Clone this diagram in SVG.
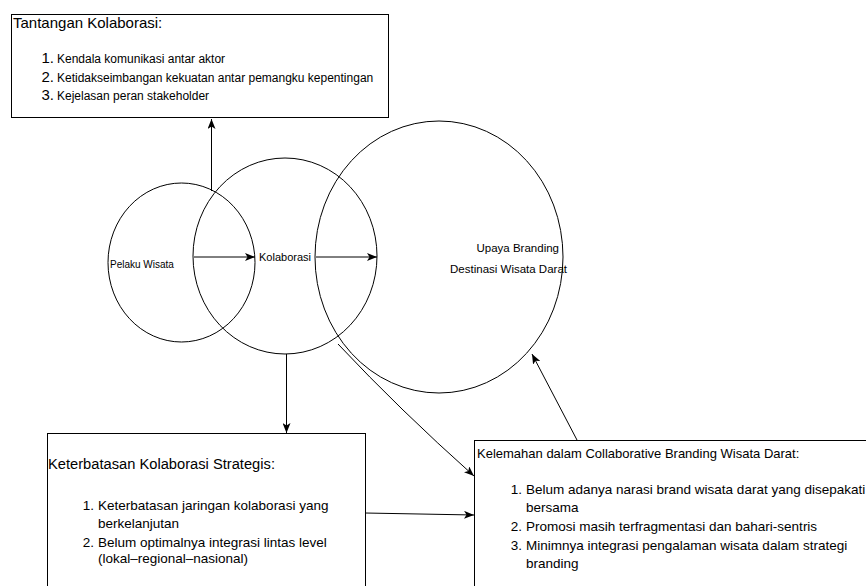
<svg xmlns="http://www.w3.org/2000/svg" width="866" height="586" viewBox="0 0 866 586">
<defs>
<marker id="arr" viewBox="0 0 10 8" refX="10" refY="4" markerWidth="10" markerHeight="8" markerUnits="userSpaceOnUse" orient="auto">
<path d="M0,0 L10,4 L0,8 L2.5,4 z" fill="#000"/>
</marker>
<style>
.box{fill:#fff;stroke:#000;stroke-width:1}
.circ{fill:none;stroke:#000;stroke-width:1}
.edge{fill:none;stroke:#000;stroke-width:1;marker-end:url(#arr)}
text{font-family:"Liberation Sans",Arial,Helvetica,sans-serif;fill:#000}
.t15{font-size:15px}
.tb{font-size:14.7px}
.ti{font-size:13.5px}
.t13{font-size:13px}
.t12{font-size:12px}
.tc{font-size:11.5px}
.t11{font-size:11px}
.t10{font-size:10px}
.num{text-anchor:end}
.end{text-anchor:end}
</style>
</defs>
<rect width="866" height="586" fill="#fff"/>

<g id="tantangan">
<rect class="box" x="11.5" y="14.5" width="377" height="103"/>
<text class="t15" x="13" y="28">Tantangan Kolaborasi:</text>
<text class="t15 num" x="54" y="63">1.</text>
<text class="t12" x="57" y="63">Kendala komunikasi antar aktor</text>
<text class="t15 num" x="54" y="81.5">2.</text>
<text class="t12" x="57" y="81.5">Ketidakseimbangan kekuatan antar pemangku kepentingan</text>
<text class="t15 num" x="54" y="100">3.</text>
<text class="t12" x="57" y="100">Kejelasan peran stakeholder</text>
</g>

<g id="pelaku">
<ellipse class="circ" cx="181.5" cy="262.5" rx="73.5" ry="79.5"/>
<text class="t10" x="110" y="268">Pelaku Wisata</text>
</g>

<g id="kolaborasi">
<ellipse class="circ" cx="285" cy="256" rx="92" ry="98"/>
<text class="t11" x="259" y="261">Kolaborasi</text>
</g>

<g id="upaya">
<ellipse class="circ" cx="439" cy="257" rx="124" ry="136"/>
<text class="tc end" x="559" y="252">Upaya Branding</text>
<text class="tc end" x="567" y="273">Destinasi Wisata Darat</text>
</g>

<g id="keterbatasan">
<rect class="box" x="47.5" y="433.5" width="318" height="170"/>
<text class="tb" x="48" y="469">Keterbatasan Kolaborasi Strategis:</text>
<text class="ti num" x="94" y="510">1.</text>
<text class="ti" x="98" y="510">Keterbatasan jaringan kolaborasi yang</text>
<text class="ti" x="98" y="528">berkelanjutan</text>
<text class="ti num" x="94" y="547">2.</text>
<text class="ti" x="98" y="547">Belum optimalnya integrasi lintas level</text>
<text class="ti" x="98" y="563">(lokal–regional–nasional)</text>
</g>

<g id="kelemahan">
<rect class="box" x="474.5" y="440.5" width="420" height="170"/>
<text class="t13" x="477" y="458">Kelemahan dalam Collaborative Branding Wisata Darat:</text>
<text class="ti num" x="522" y="494">1.</text>
<text class="ti" x="526" y="494">Belum adanya narasi brand wisata darat yang disepakati</text>
<text class="ti" x="526" y="512">bersama</text>
<text class="ti num" x="522" y="531">2.</text>
<text class="ti" x="526" y="531">Promosi masih terfragmentasi dan bahari-sentris</text>
<text class="ti num" x="522" y="550">3.</text>
<text class="ti" x="526" y="550">Minimnya integrasi pengalaman wisata dalam strategi</text>
<text class="ti" x="526" y="568">branding</text>
</g>

<g id="connectors">
<path class="edge" d="M194,257 L255,257"/>
<path class="edge" d="M316,257 L377,257"/>
<path class="edge" d="M211.5,191 L211.5,119"/>
<path class="edge" d="M286.5,354 L286.5,433"/>
<path class="edge" d="M338,344 Q400,410 474,476"/>
<path class="edge" d="M365,513 L474,515"/>
<path class="edge" d="M577,440 L532,354"/>
</g>
</svg>
